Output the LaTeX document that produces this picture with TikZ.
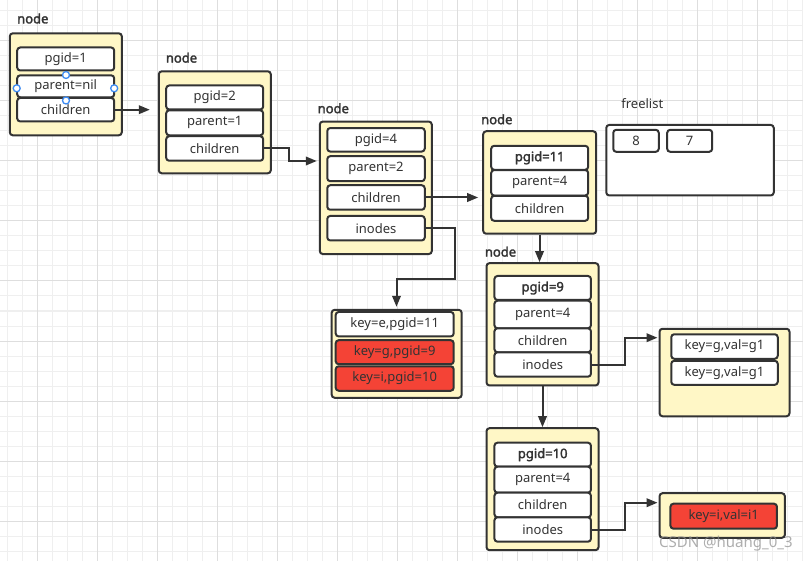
\documentclass[tikz,border=0pt]{standalone}
\usepackage{fontspec}
\setmainfont{Noto Sans}
\newfontfamily\heavyfont{Noto Sans}[FakeBold=2.2]
\usetikzlibrary{arrows.meta}
\definecolor{ink}{HTML}{333333}
\definecolor{paper}{HTML}{FFF7C6}
\definecolor{keyred}{HTML}{F44336}
\definecolor{gridminor}{HTML}{EFEFEF}
\definecolor{gridmajor}{HTML}{DEDEDE}
\definecolor{handle}{HTML}{3D8BF2}
\begin{document}
\begin{tikzpicture}[x=1pt,y=-1pt,
  sz/.style 2 args={minimum width=#1pt, minimum height=#2pt},
  outer/.style={draw=ink, line width=2pt, rounded corners=3pt, fill=paper, inner sep=0pt},
  whitebox/.style={draw=ink, line width=2pt, rounded corners=3pt, fill=white, inner sep=0pt},
  field/.style={draw=ink, line width=2pt, rounded corners=3pt, fill=white, inner sep=0pt,
    font=\fontsize{13}{15}\selectfont, text=ink},
  boldfield/.style={field, font=\fontsize{13}{15}\selectfont\heavyfont},
  redfield/.style={field, fill=keyred},
  title/.style={anchor=west, inner sep=0pt, font=\fontsize{13}{15}\selectfont\heavyfont, text=ink},
  plain/.style={inner sep=0pt, font=\fontsize{13}{15}\selectfont, text=ink},
  conn/.style={draw=ink, line width=2pt, -{Triangle[length=11pt,width=8.5pt]}},
  hdl/.style={circle, draw=handle, line width=1.3pt, fill=white, minimum size=7pt, inner sep=0pt}
]
% background and grid
\fill[white] (0,0) rectangle (803,561);
\useasboundingbox (0,0) rectangle (803,561);
\foreach \gx in {7.3,22.3,...,803} {\draw[gridminor, line width=1pt] (\gx,0) -- (\gx,561);}
\foreach \gy in {11,26,...,561} {\draw[gridminor, line width=1pt] (0,\gy) -- (803,\gy);}
\foreach \gx in {37.3,97.3,...,803} {\draw[gridmajor, line width=1pt] (\gx,0) -- (\gx,561);}
\foreach \gy in {41,101,...,561} {\draw[gridmajor, line width=1pt] (0,\gy) -- (803,\gy);}

% ---------- node 1 ----------
\node[title] (t1) at (17,18.5) {node};
\node[outer, sz={112}{102}] (n1o) at (65.8,84.3) {};
\node[field, sz={97}{23}] (n1p) at (65.7,59) {pgid=1};
\node[field, sz={97}{22}] (n1q) at (65.7,86.3) {parent=nil};
\node[field, sz={97}{23.5}] (n1c) at (65.7,109.7) {children};
\node[hdl] (h1) at (66,75) {};
\node[hdl] (h2) at (16.7,88.3) {};
\node[hdl] (h3) at (114.2,88.3) {};
\node[hdl] (h4) at (66,100.5) {};

% ---------- node 2 ----------
\node[title] (t2) at (165.7,57.7) {node};
\node[outer, sz={112}{102}] (n2o) at (214.8,122.3) {};
\node[field, sz={97}{24}] (n2p) at (214.7,97.5) {pgid=2};
\node[field, sz={97}{25}] (n2q) at (214.7,122.8) {parent=1};
\node[field, sz={97}{24.5}] (n2c) at (214.7,148.5) {children};

% ---------- node 4 ----------
\node[title] (t3) at (317.5,108.3) {node};
\node[outer, sz={112}{132.5}] (n3o) at (375.8,187.8) {};
\node[field, sz={97.5}{23.5}] (n3p) at (376,139.8) {pgid=4};
\node[field, sz={97.5}{25}] (n3q) at (376,168.7) {parent=2};
\node[field, sz={97.5}{24.5}] (n3c) at (376,197.5) {children};
\node[field, sz={97.5}{24.5}] (n3i) at (376,228.2) {inodes};

% ---------- inodes of node 4 ----------
\node[outer, sz={130}{88}] (k4o) at (396.7,353.8) {};
\node[field, sz={118}{24.5}] (k4a) at (394.7,324.2) {key=e,pgid=11};
\node[redfield, sz={118}{24}] (k4b) at (394.7,352.2) {key=g,pgid=9};
\node[redfield, sz={118}{24.5}] (k4c) at (394.7,378.5) {key=i,pgid=10};

% ---------- node 11 ----------
\node[title] (t11) at (481,119.3) {node};
\node[outer, sz={113}{102.5}] (n11o) at (539.7,182.5) {};
\node[boldfield, sz={97}{24}] (n11p) at (539.7,157.8) {pgid=11};
\node[field, sz={97}{25.5}] (n11q) at (539.7,182.8) {parent=4};
\node[field, sz={97}{25}] (n11c) at (539.7,208.3) {children};

% ---------- freelist ----------
\node[plain] (fl) at (642.3,103.3) {freelist};
\node[whitebox, sz={167.5}{70.5}] (flo) at (690,160.2) {};
\node[field, sz={45.5}{22}] (f8) at (636,140.8) {8};
\node[field, sz={45}{22}] (f7) at (689.7,140.8) {7};

% ---------- node 9 ----------
\node[title] (t9) at (484.7,251.7) {node};
\node[outer, sz={112}{122.3}] (n9o) at (542.5,324.3) {};
\node[boldfield, sz={96.5}{24}] (n9p) at (542.7,288) {pgid=9};
\node[field, sz={96.5}{27.5}] (n9q) at (542.7,314.5) {parent=4};
\node[field, sz={96.5}{24}] (n9c) at (542.7,340.3) {children};
\node[field, sz={96.5}{24.4}] (n9i) at (542.7,364.5) {inodes};

% ---------- inodes of node 9 ----------
\node[outer, sz={130}{87.5}] (k9o) at (724.5,372.5) {};
\node[field, sz={106.5}{24.5}] (k9a) at (724.5,346.5) {key=g,val=g1};
\node[field, sz={106.5}{24}] (k9b) at (724.5,372.8) {key=g,val=g1};

% ---------- node 10 ----------
\node[outer, sz={112}{122}] (n10o) at (542.5,489.2) {};
\node[boldfield, sz={96.5}{24}] (n10p) at (542.7,454.7) {pgid=10};
\node[field, sz={96.5}{26}] (n10q) at (542.7,479.7) {parent=4};
\node[field, sz={96.5}{24.6}] (n10c) at (542.7,505) {children};
\node[field, sz={96.5}{24.4}] (n10i) at (542.7,529.5) {inodes};

% ---------- inodes of node 10 ----------
\node[outer, sz={125.3}{44.6}] (k10o) at (722.2,515.5) {};
\node[redfield, sz={106.5}{25}] (k10a) at (723.7,516.2) {key=i,val=i1};

% ---------- connectors ----------
\draw[conn, shorten >=8pt] (n1c.east) -- (n1c.east -| n2o.west);
\draw[conn, shorten >=2pt] (n2c.east) -- (289.3,148.5) -- (289.3,161) -- (n3o.west |- 289.3,161);
\draw[conn, shorten >=4pt] (n3c.east) -- (n3c.east -| n11o.west);
\draw[conn, shorten >=2pt] (n3i.east) -- (454.8,228.2) -- (454.8,279) -- (396.5,279) -- (k4o.north -| 396.5,279);
\draw[conn] (n11o.south -| 539.5,0) -- (n9o.north -| 539.5,0);
\draw[conn, shorten >=1pt] (n9i.east) -- (625.3,364.5) -- (625.3,337.7) -- (k9o.west |- 625.3,337.7);
\draw[conn] (n9o.south -| 542.5,0) -- (n10o.north -| 542.5,0);
\draw[conn, shorten >=1pt] (n10i.east) -- (625.3,529.5) -- (625.3,502.7) -- (k10o.west |- 625.3,502.7);

% watermark
\node[anchor=west, inner sep=0pt, font=\fontsize{15}{17}\selectfont, text=black!45, opacity=0.7] (wm) at (659,543.5) {CSDN @huang\_0\_3};
\end{tikzpicture}
\end{document}
